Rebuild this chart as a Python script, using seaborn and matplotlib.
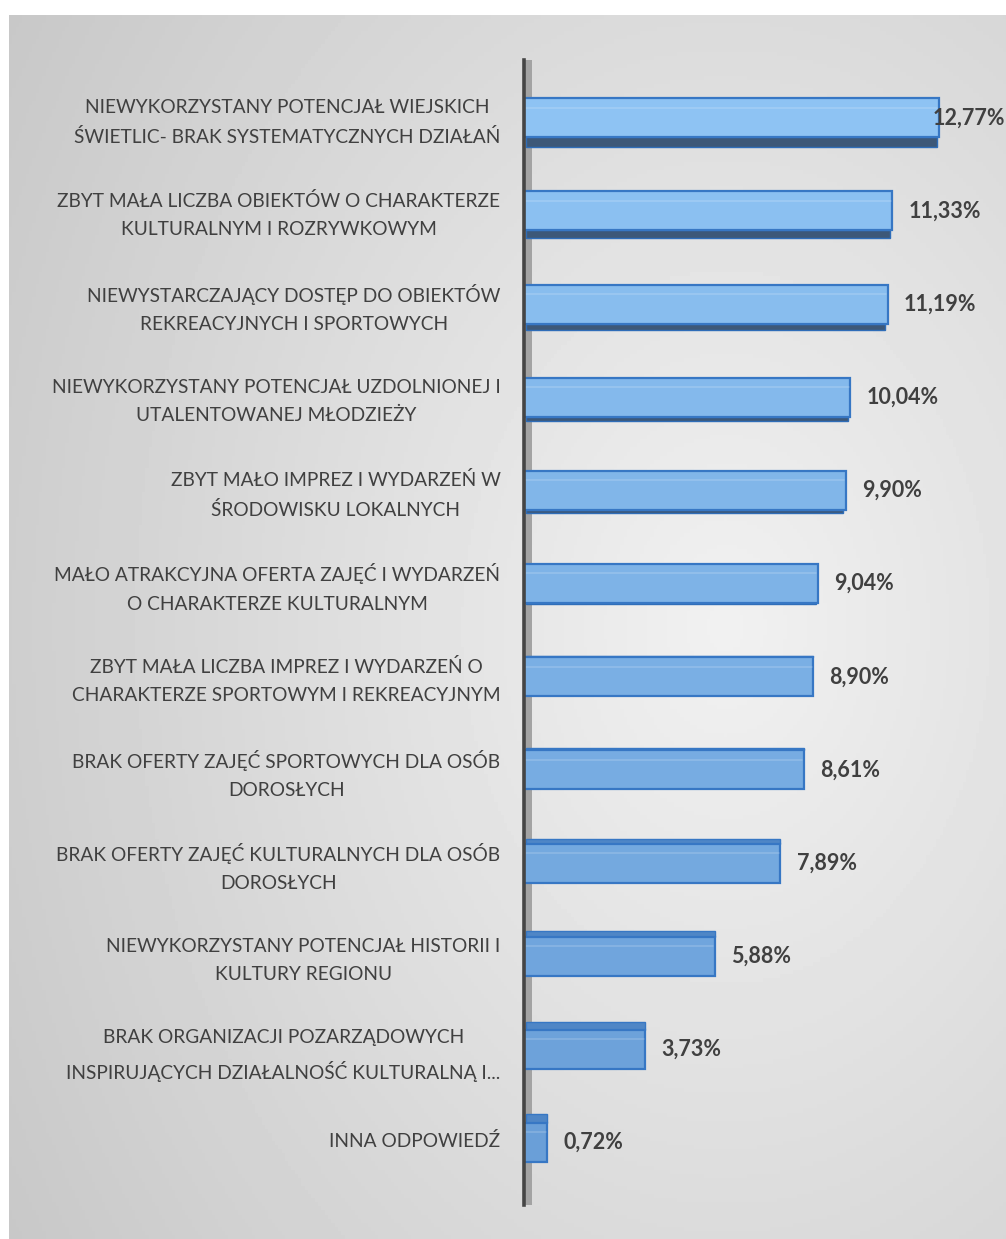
import numpy as np
import pandas as pd
import seaborn as sns
import matplotlib.pyplot as plt
from matplotlib.patches import Rectangle
from matplotlib.transforms import ScaledTranslation

# dane
kategorie = [
    "NIEWYKORZYSTANY POTENCJAŁ WIEJSKICH\nŚWIETLIC- BRAK SYSTEMATYCZNYCH DZIAŁAŃ",
    "ZBYT MAŁA LICZBA OBIEKTÓW O CHARAKTERZE\nKULTURALNYM I ROZRYWKOWYM",
    "NIEWYSTARCZAJĄCY DOSTĘP DO OBIEKTÓW\nREKREACYJNYCH I SPORTOWYCH",
    "NIEWYKORZYSTANY POTENCJAŁ UZDOLNIONEJ I\nUTALENTOWANEJ MŁODZIEŻY",
    "ZBYT MAŁO IMPREZ I WYDARZEŃ W\nŚRODOWISKU LOKALNYCH",
    "MAŁO ATRAKCYJNA OFERTA ZAJĘĆ I WYDARZEŃ\nO CHARAKTERZE KULTURALNYM",
    "ZBYT MAŁA LICZBA IMPREZ I WYDARZEŃ O\nCHARAKTERZE SPORTOWYM I REKREACYJNYM",
    "BRAK OFERTY ZAJĘĆ SPORTOWYCH DLA OSÓB\nDOROSŁYCH",
    "BRAK OFERTY ZAJĘĆ KULTURALNYCH DLA OSÓB\nDOROSŁYCH",
    "NIEWYKORZYSTANY POTENCJAŁ HISTORII I\nKULTURY REGIONU",
    "BRAK ORGANIZACJI POZARZĄDOWYCH\nINSPIRUJĄCYCH DZIAŁALNOŚĆ KULTURALNĄ I...",
    "INNA ODPOWIEDŹ",
]
wartosci = [12.77, 11.33, 11.19, 10.04, 9.90, 9.04, 8.90, 8.61, 7.89, 5.88, 3.73, 0.72]
etykiety = ["12,77%", "11,33%", "11,19%", "10,04%", "9,90%", "9,04%",
            "8,90%", "8,61%", "7,89%", "5,88%", "3,73%", "0,72%"]

df = pd.DataFrame({"kategoria": kategorie, "wartosc": wartosci})

sns.set_style("white")
plt.rcParams['font.family'] = ['Lato', 'DejaVu Sans']

W, H = 1006, 1239
fig = plt.figure(figsize=(W / 100, H / 100), dpi=100)
fig.patch.set_facecolor("white")

# tlo - szary gradient
bg = fig.add_axes([9 / W, 0, 1 - 9 / W, (H - 15) / H])
yy, xx = np.mgrid[0:1:300j, 0:1:300j]
r = np.sqrt((xx - 0.72) ** 2 + ((yy - 0.5) / 1.1) ** 2)
grad = 0.945 - 0.19 * r
bg.imshow(grad, cmap="gray", vmin=0, vmax=1, aspect="auto", extent=[0, 1, 1, 0])
bg.set_axis_off()

ax = fig.add_axes([524 / W, (H - 1205) / H, (W - 524) / W, (1205 - 60) / H])
ax.patch.set_alpha(0)

paleta = sns.blend_palette(["#8ec3f3", "#6a9fd8"], len(kategorie))
sns.barplot(data=df, x="wartosc", y="kategoria", hue="kategoria", palette=paleta,
            legend=False, width=0.42, saturation=1, edgecolor="#3777c4",
            linewidth=1.6, ax=ax, zorder=3)

XMAX = 14.83
ax.set_xlim(0, XMAX)
ax.set_ylim(len(kategorie) - 0.33, -0.62)

# efekt 3D: dolna / gorna sciana slupka
szer = 0.42
for i, p in enumerate(ax.patches[:len(kategorie)]):
    y0 = p.get_y()
    x1 = p.get_width()
    d = (i - 5.5) / 5.5 * 0.10
    if d < 0:
        ax.add_patch(Rectangle((0.05, y0 + szer), x1 - 0.12, -d,
                               facecolor="#3d5878", edgecolor="#2f6db8",
                               linewidth=1.0, zorder=2))
    else:
        ax.add_patch(Rectangle((0.05, y0 - d), x1 - 0.05, d,
                               facecolor="#4f86c6", edgecolor="#3777c4",
                               linewidth=1.0, zorder=2))
    ax.plot([0.05, x1 - 0.05], [y0 + 0.1, y0 + 0.1], color="white",
            alpha=0.18, lw=1.2, zorder=4)

# etykiety wartosci
for i, (v, t) in enumerate(zip(wartosci, etykiety)):
    if v + 0.5 + 2.2 > XMAX:
        ax.text(XMAX - 0.03, i, t, va="center", ha="right", fontsize=15.5,
                fontweight="bold", color="#404040", zorder=5)
    else:
        ax.text(v + 0.5, i, t, va="center", ha="left", fontsize=15.5,
                fontweight="bold", color="#404040", zorder=5)

# os pionowa z cieniem
ax.add_patch(Rectangle((0, 0), 8 / (W - 524), 1, transform=ax.transAxes,
                       facecolor="#a3a3a3", edgecolor="none", zorder=1))
for s in ["top", "right", "bottom"]:
    ax.spines[s].set_visible(False)
ax.spines["left"].set_color("#454545")
ax.spines["left"].set_linewidth(2.6)
ax.spines["left"].set_zorder(6)

ax.set_xticks([])
ax.set_xlabel("")
ax.set_ylabel("")
ax.tick_params(axis="y", length=0, pad=17, labelsize=13.8, labelcolor="#404040")
przesun = ScaledTranslation(0, 2 / 72, fig.dpi_scale_trans)
for lbl in ax.get_yticklabels():
    lbl.set_multialignment("center")
    lbl.set_linespacing(1.8)
    lbl.set_transform(lbl.get_transform() + przesun)

fig.savefig("out.png", dpi=100)
